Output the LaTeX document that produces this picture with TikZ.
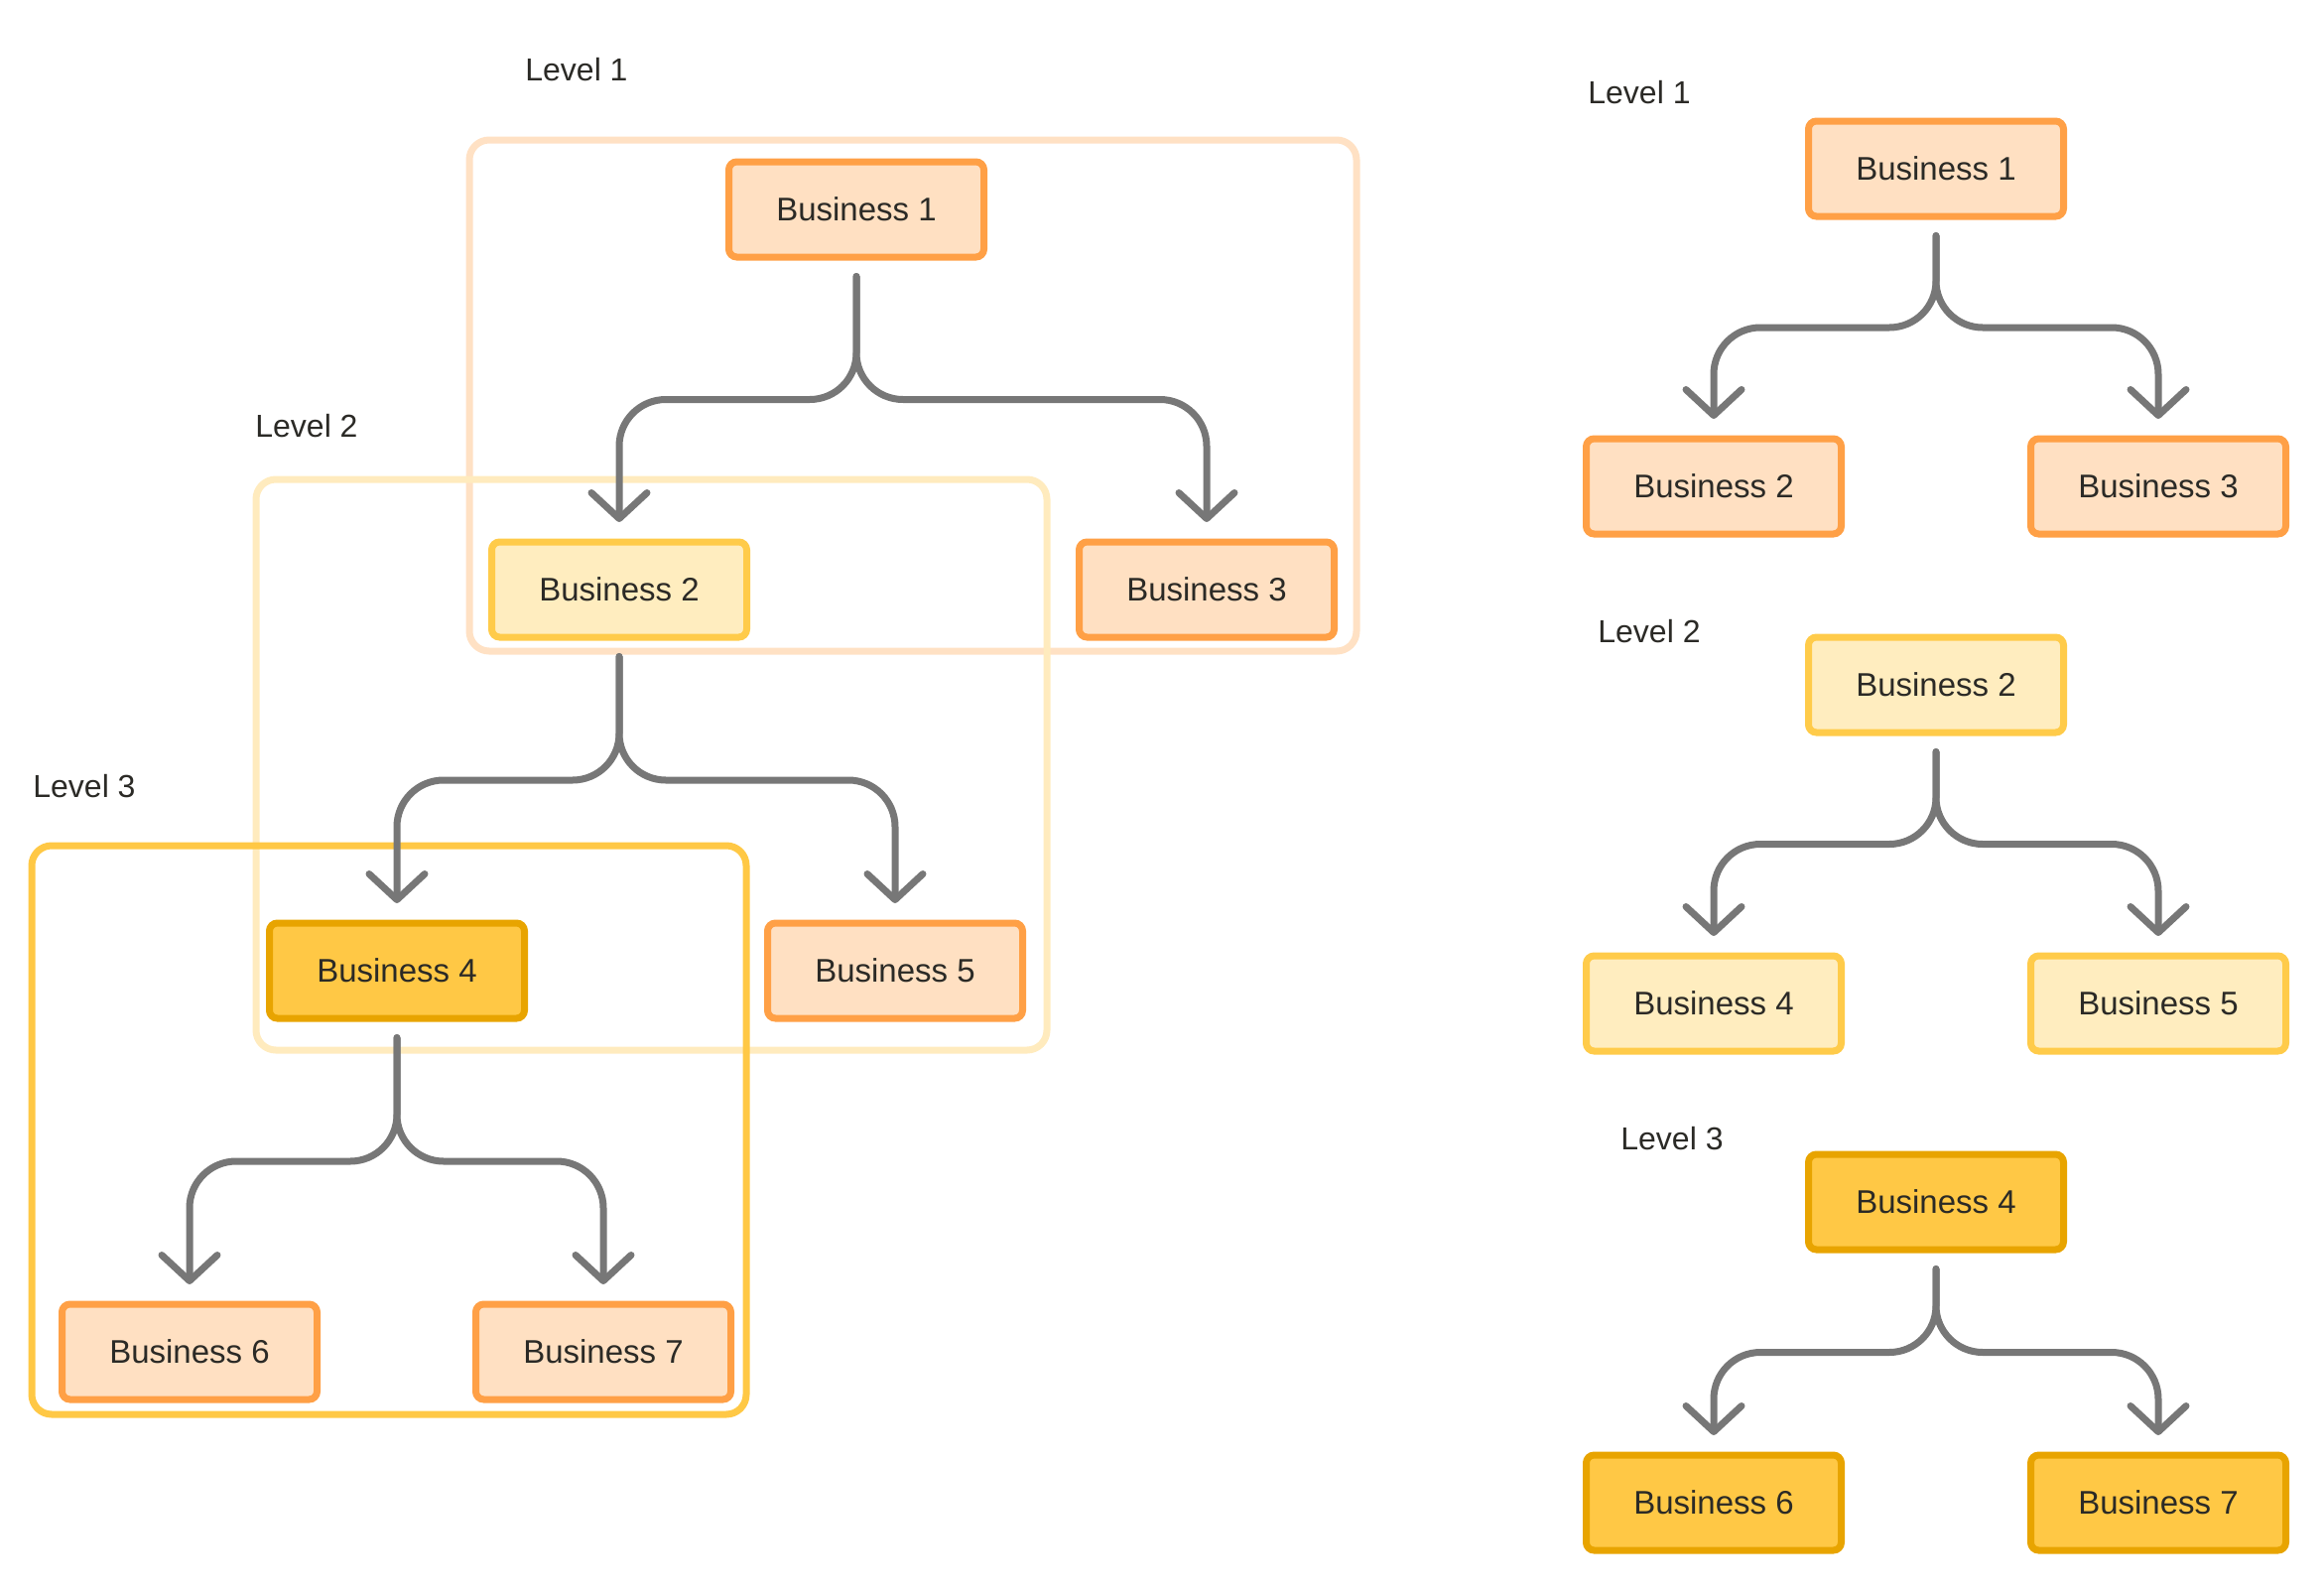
\documentclass[tikz,border=0pt]{standalone}
\usepackage{fontspec}
\setmainfont{Liberation Sans}
\usetikzlibrary{arrows.meta,calc}
\definecolor{orgfill}{HTML}{FFE0C2}
\definecolor{orgline}{HTML}{FFA046}
\definecolor{ylfill}{HTML}{FFEDBF}
\definecolor{ylline}{HTML}{FFCB4A}
\definecolor{dyfill}{HTML}{FFC845}
\definecolor{dyline}{HTML}{E8A400}
\definecolor{frameA}{HTML}{FFE1C4}
\definecolor{frameB}{HTML}{FFEBBE}
\definecolor{frameC}{HTML}{FFC845}
\definecolor{conn}{HTML}{777777}
\definecolor{txt}{HTML}{2B2A26}
\begin{document}
\begin{tikzpicture}[x=0.5pt,y=-0.5pt,
 biz/.style={rectangle, rounded corners=4pt, line width=3.5pt, minimum width=128.5pt, minimum height=48pt, inner sep=0pt, font=\fontsize{16.5}{19}\selectfont, text=txt},
 orgbox/.style={biz, fill=orgfill, draw=orgline},
 ylbox/.style={biz, fill=ylfill, draw=ylline},
 dybox/.style={biz, fill=dyfill, draw=dyline},
 levellabel/.style={anchor=west, inner sep=0pt, font=\fontsize{16}{19}\selectfont, text=txt},
 frame/.style={line width=3.5pt, rounded corners=10pt},
 link/.style={draw=conn, line width=3.5pt, rounded corners=23.5pt, line cap=round, shorten <=8pt, shorten >=8.25pt, -{Straight Barb[length=13pt,width=28pt,round]}},
]
\useasboundingbox (0,0) rectangle (2342,1607);

% ---------- left diagram ----------
\draw[frame, draw=frameA] (473,141) rectangle (1367,656);
\draw[frame, draw=frameB] (258,483) rectangle (1055,1058);
\draw[frame, draw=frameC] (32,852) rectangle (752,1425);

\node[levellabel] (l1) at (529,70) {Level 1};
\node[levellabel] (l2) at (257,429) {Level 2};
\node[levellabel] (l3) at (33,792) {Level 3};

\node[orgbox] (b1) at (863,211) {Business 1};
\node[ylbox]  (b2) at (624,594) {Business 2};
\node[orgbox] (b3) at (1216,594) {Business 3};
\node[dybox]  (b4) at (400,978) {Business 4};
\node[orgbox] (b5) at (902,978) {Business 5};
\node[orgbox] (b6) at (191,1362) {Business 6};
\node[orgbox] (b7) at (608,1362) {Business 7};

\coordinate (m1) at ($(b1.south)!.5!(b2.north)$);
\draw[link] (b1.south) -- (b1.south |- m1) -- (b2.north |- m1) -- (b2.north);
\draw[link] (b1.south) -- (b1.south |- m1) -- (b3.north |- m1) -- (b3.north);
\coordinate (m2) at ($(b2.south)!.5!(b4.north)$);
\draw[link] (b2.south) -- (b2.south |- m2) -- (b4.north |- m2) -- (b4.north);
\draw[link] (b2.south) -- (b2.south |- m2) -- (b5.north |- m2) -- (b5.north);
\coordinate (m3) at ($(b4.south)!.5!(b6.north)$);
\draw[link] (b4.south) -- (b4.south |- m3) -- (b6.north |- m3) -- (b6.north);
\draw[link] (b4.south) -- (b4.south |- m3) -- (b7.north |- m3) -- (b7.north);

% ---------- right diagram ----------
\node[levellabel] (r1) at (1600,93) {Level 1};
\node[orgbox] (ra1) at (1951,170) {Business 1};
\node[orgbox] (ra2) at (1727,490) {Business 2};
\node[orgbox] (ra3) at (2175,490) {Business 3};
\coordinate (rm1) at ($(ra1.south)!.5!(ra2.north)$);
\draw[link] (ra1.south) -- (ra1.south |- rm1) -- (ra2.north |- rm1) -- (ra2.north);
\draw[link] (ra1.south) -- (ra1.south |- rm1) -- (ra3.north |- rm1) -- (ra3.north);

\node[levellabel] (r2) at (1610,636) {Level 2};
\node[ylbox] (rb2) at (1951,690) {Business 2};
\node[ylbox] (rb4) at (1727,1011) {Business 4};
\node[ylbox] (rb5) at (2175,1011) {Business 5};
\coordinate (rm2) at ($(rb2.south)!.5!(rb4.north)$);
\draw[link] (rb2.south) -- (rb2.south |- rm2) -- (rb4.north |- rm2) -- (rb4.north);
\draw[link] (rb2.south) -- (rb2.south |- rm2) -- (rb5.north |- rm2) -- (rb5.north);

\node[levellabel] (r3) at (1633,1147) {Level 3};
\node[dybox] (rc4) at (1951,1211) {Business 4};
\node[dybox] (rc6) at (1727,1514) {Business 6};
\node[dybox] (rc7) at (2175,1514) {Business 7};
\coordinate (rm3) at ($(rc4.south)!.5!(rc6.north)$);
\draw[link] (rc4.south) -- (rc4.south |- rm3) -- (rc6.north |- rm3) -- (rc6.north);
\draw[link] (rc4.south) -- (rc4.south |- rm3) -- (rc7.north |- rm3) -- (rc7.north);
\end{tikzpicture}
\end{document}
